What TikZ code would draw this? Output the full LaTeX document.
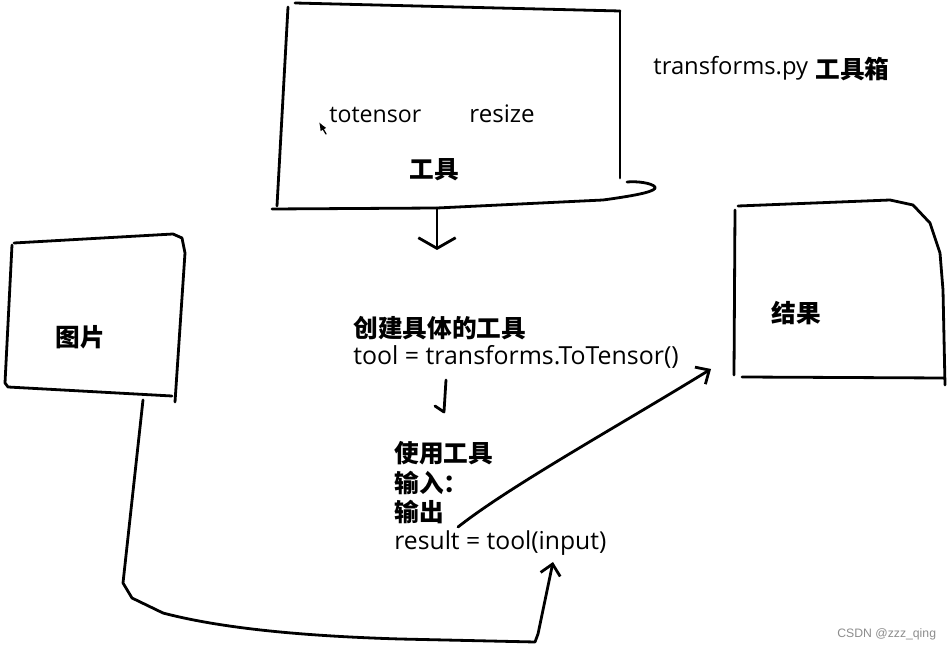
\documentclass[tikz,border=0pt]{standalone}
\usepackage{fontspec}
\usepackage{graphicx}
\newfontfamily\cjk{Noto Sans CJK SC}
\newfontfamily\hand{Open Sans}
\newfontfamily\wmfont{Liberation Sans}
\usetikzlibrary{arrows.meta}
\newcommand\hw[2]{\resizebox{#1}{!}{\hand #2}}
\begin{document}
\begin{tikzpicture}[x=0.75pt,y=-0.75pt, line width=2.1pt, line cap=round, line join=round,
  cn/.style={inner sep=0pt, anchor=west, font=\cjk\bfseries\fontsize{18.5pt}{22pt}\selectfont},
  hn/.style={inner sep=0pt, anchor=base west},
]
\useasboundingbox (0,0) rectangle (951,652);
% ---------- tools box ----------
\coordinate (t1) at (295,3); \coordinate (t2) at (620,11);
\coordinate (t3) at (288,7); \coordinate (t4) at (277,206);
\coordinate (t5) at (620,178);
\coordinate (t6) at (272,209); \coordinate (tb) at (437,208);
\draw (t1) -- (t2);
\draw (t3) -- (t4);
\draw (t2) -- (t5);
\draw (t6) -- (tb) -- (603,200) .. controls (640,195) and (657,191) .. (655,187) .. controls (652,183) and (637,181) .. (627,182);
\node[hn] (totensor) at (328,123) {\hw{69pt}{totensor}};
\node[hn] (resize) at (468,123) {\hw{49pt}{resize}};
\node[cn] (tools) at (408,170) {工具};
\coordinate (cur0) at (326,134); \coordinate (cur1) at (319,122);
\draw[line width=1pt, -{Latex[length=6.5pt,width=5pt]}] (cur0) -- (cur1);
\node[hn] (tpy) at (652,75) {\hw{116pt}{transforms.py}};
\node[cn] (box) at (814,69) {工具箱};
% arrow down
\coordinate (tarr) at (437,250);
\draw[-{Straight Barb[length=8pt,width=28pt]}] (tb) -- (tarr);
% ---------- image box ----------
\draw (14,243) -- (173,234) -- (182,238) -- (185,253) -- (175,402);
\draw (12,245) -- (5,383) -- (8,387) -- (172,396);
\node[cn] (img) at (54,337) {图片};
% ---------- result box ----------
\draw (738,206) -- (890,200) -- (913,205) -- (930,223) -- (940,253) -- (943,290) -- (945,385);
\draw (735,210) -- (734,375);
\draw (742,377) -- (944,378);
\node[cn] (res) at (770,313) {结果};
% ---------- middle texts ----------
\node[cn] (create) at (352,328) {创建具体的工具};
\node[hn] (toolline) at (352,365) {\hw{244pt}{tool = transforms.ToTensor()}};
\node[cn] (use) at (393,453) {使用工具};
\node[cn] (in) at (393,483) {输入：};
\node[cn] (out) at (393,512) {输出};
\node[hn] (resline) at (393,550) {\hw{159pt}{result = tool(input)}};
% small arrow
\coordinate (s1) at (446,380); \coordinate (s2) at (444,412);
\draw (s1) -- (s2) -- (435,406);
% image -> input
\coordinate (i0) at (143,400); \coordinate (itip) at (553,562);
\draw[-{Straight Barb[length=8pt,width=15pt]}] (i0) -- (123,583) -- (132,598) -- (163,613) .. controls (220,628) and (300,636) .. (400,639) -- (535,642) -- (538,634) -- (itip);
% output -> result
\coordinate (o0) at (458,527); \coordinate (otip) at (711,369);
\draw[-{Straight Barb[length=8pt,width=15pt]}] (o0) .. controls (510,486) and (620,425) .. (otip);
% watermark
\node[inner sep=0pt, anchor=west, text=black!45] (wm) at (836,634) {\resizebox{74pt}{!}{\wmfont CSDN @zzz\_qing}};
\end{tikzpicture}
\end{document}
